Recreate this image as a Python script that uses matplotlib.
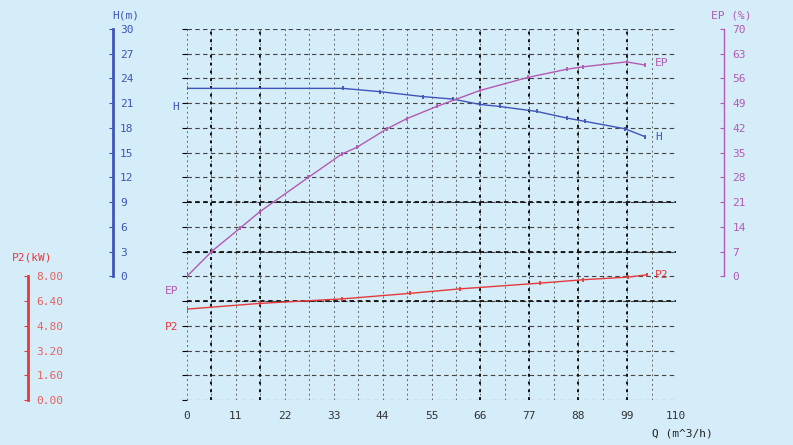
import numpy as np
import matplotlib
matplotlib.use("Agg")
import matplotlib.pyplot as plt

# Pump curves
q_h = [0, 35, 43.4, 53.1, 59.8, 65.9, 70.4, 78.7, 85.4, 89.5, 98.5, 103]
h_m = [22.8, 22.8, 22.4, 21.8, 21.5, 20.85, 20.6, 20.0, 19.2, 18.8, 17.9, 16.95]

q_ep = [0, 5.6, 11.9, 16.4, 27.3, 34.8, 38.2, 44.9, 49.4, 56.2, 65.9, 76.7, 85.4, 89.1, 98.9, 103]
ep_pct = [0, 7.1, 13.6, 18.3, 28.0, 34.6, 36.5, 41.7, 44.6, 48.1, 52.6, 56.3, 58.6, 59.3, 60.7, 59.8]

q_p2 = [0, 16.4, 34.9, 50.2, 61.4, 79.4, 89.1, 99.2, 103.5]
p2_kw = [5.88, 6.25, 6.54, 6.9, 7.19, 7.56, 7.78, 7.95, 8.1]

x_ticks = np.arange(0, 110.1, 11)
h_ticks = np.arange(0, 30.1, 3)
ep_ticks = np.arange(0, 70.1, 7)
p2_ticks = np.arange(0, 8.01, 1.6)

bg = "#d4edf9"
blue = "#3f55b8"
purple = "#b25ab2"
red = "#e43a3a"
font = "DejaVu Sans Mono"

W, H = 793, 445
fig = plt.figure(figsize=(W / 100, H / 100), dpi=100, facecolor=bg)

# plot frame in pixels: x 187..676, y 29..400
ax = fig.add_axes([187 / W, 1 - 400 / H, (676 - 187) / W, (400 - 29) / H])
ax.set_facecolor(bg)
ax.set_xlim(0, 110)
ax.set_ylim(-15, 30)
for s in ax.spines.values():
    s.set_visible(False)

# grid
ax.set_xticks(x_ticks)
ax.set_xticks(np.arange(0, 110.1, 5.5), minor=True)
ax.set_yticks(np.arange(-15, 30.1, 3))
ax.grid(which="both", axis="x", color="#666666", lw=0.7, linestyle=(0, (2, 3)))
ax.grid(which="major", axis="y", color="#444444", lw=0.8, linestyle=(0, (4, 3)))
for xb in [5.5, 16.5, 66, 77, 88, 99]:
    ax.axvline(xb, color="#111111", lw=1.4, linestyle=(0, (1.5, 2.5)))
for yb in [9, 3, -3]:
    ax.axhline(yb, color="#111111", lw=1.3, linestyle=(0, (2.5, 2)))
ax.tick_params(axis="y", left=False, labelleft=False)
ax.tick_params(axis="x", which="both", length=0, pad=8, labelsize=8, labelcolor="#333333")
ax.set_xticklabels([f"{int(round(v))}" for v in x_ticks])
for lab in ax.get_xticklabels():
    lab.set_fontfamily(font)

# H curve on main axes
ax.plot(q_h, h_m, color=blue, lw=1.0, marker="|", ms=3.5, mew=1.3, zorder=5)

# H axis
ax_h = ax.twinx()
ax_h.set_ylim(-15, 30)
for k, s in ax_h.spines.items():
    s.set_visible(k == "right")
ax_h.spines["right"].set_position(("axes", (113 - 187) / 489))
ax_h.spines["right"].set_bounds(0, 30)
ax_h.spines["right"].set_color(blue)
ax_h.spines["right"].set_linewidth(2)
ax_h.set_yticks(h_ticks)
ax_h.tick_params(axis="y", direction="in", length=3, color=blue, labelcolor=blue,
                 labelsize=8, pad=5)
for lab in ax_h.get_yticklabels():
    lab.set_fontfamily(font)

# P2 axis
ax_p = ax.twinx()
ax_p.set_ylim(0, 24)
for k, s in ax_p.spines.items():
    s.set_visible(k == "right")
ax_p.spines["right"].set_position(("axes", (28 - 187) / 489))
ax_p.spines["right"].set_bounds(0, 8)
ax_p.spines["right"].set_color(red)
ax_p.spines["right"].set_linewidth(2)
ax_p.set_yticks(p2_ticks)
ax_p.set_yticklabels([f"{v:.2f}" for v in p2_ticks])
ax_p.tick_params(axis="y", direction="in", length=3, color=red, labelcolor="#e86060",
                 labelsize=8, pad=6)
for lab in ax_p.get_yticklabels():
    lab.set_fontfamily(font)
ax_p.plot(q_p2, p2_kw, color=red, lw=1.0, marker="|", ms=3.5, mew=1.3, zorder=5)

# EP axis
ax_e = ax.twinx()
ax_e.set_ylim(-35, 70)
for k, s in ax_e.spines.items():
    s.set_visible(k == "right")
ax_e.spines["right"].set_position(("axes", (724 - 187) / 489))
ax_e.spines["right"].set_bounds(0, 70)
ax_e.spines["right"].set_color(purple)
ax_e.spines["right"].set_linewidth(1.0)
ax_e.set_yticks(ep_ticks)
ax_e.tick_params(axis="y", direction="in", length=3, color=purple, labelcolor=purple,
                 labelsize=8, pad=6)
for lab in ax_e.get_yticklabels():
    lab.set_fontfamily(font)
ax_e.plot(q_ep, ep_pct, color=purple, lw=1.0, marker="|", ms=3.5, mew=1.3, zorder=5)

# curve end labels
ax.annotate("H", (q_h[-1], h_m[-1]), xytext=(10, 0), textcoords="offset pixels",
            color=blue, fontsize=8, family=font, va="center", annotation_clip=False)
ax_e.annotate("EP", (q_ep[-1], ep_pct[-1]), xytext=(10, 2), textcoords="offset pixels",
              color=purple, fontsize=8, family=font, va="center", annotation_clip=False)
ax_p.annotate("P2", (q_p2[-1], p2_kw[-1]), xytext=(8, 0), textcoords="offset pixels",
              color=red, fontsize=8, family=font, va="center", annotation_clip=False)

# curve start labels (left of frame)
fig.text(176 / W, 1 - 107 / H, "H", color=blue, fontsize=8, family=font,
         ha="center", va="center")
fig.text(172 / W, 1 - 291 / H, "EP", color=purple, fontsize=8, family=font,
         ha="center", va="center")
fig.text(172 / W, 1 - 327 / H, "P2", color=red, fontsize=8, family=font,
         ha="center", va="center")

# axis titles
fig.text(112 / W, 1 - 15 / H, "H(m)", color=blue, fontsize=8, family=font,
         ha="left", va="center")
fig.text(12 / W, 1 - 257 / H, "P2(kW)", color=red, fontsize=8, family=font,
         ha="left", va="center")
fig.text(711 / W, 1 - 15 / H, "EP (%)", color=purple, fontsize=8, family=font,
         ha="left", va="center")
fig.text(652 / W, 1 - 434 / H, "Q (m^3/h)", color="#222222", fontsize=8, family=font,
         ha="left", va="center")

fig.savefig("out.png", dpi=100, facecolor=bg)
